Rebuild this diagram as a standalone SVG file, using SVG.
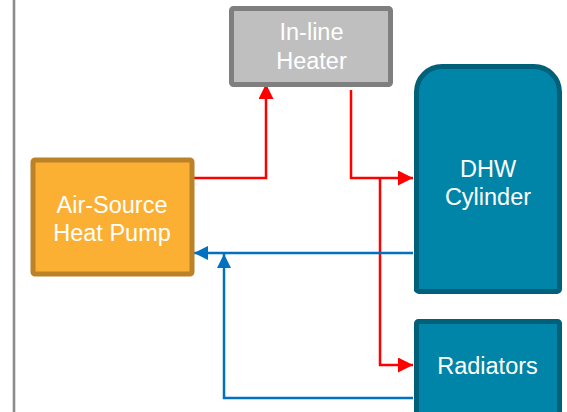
<svg xmlns="http://www.w3.org/2000/svg" width="567" height="412" viewBox="0 0 567 412">
  <defs>
    <style>
      .lbl { font-family: "Liberation Sans", Arial, sans-serif; font-size: 23.5px; fill: #FFFFFF; text-anchor: middle; }
      .hot { fill: none; stroke: #FF0000; stroke-width: 2.5; }
      .cold { fill: none; stroke: #0070C0; stroke-width: 2.5; }
    </style>
    <marker id="arrRed" viewBox="0 0 10 10" refX="10" refY="5" markerUnits="userSpaceOnUse" markerWidth="15" markerHeight="15" orient="auto">
      <path d="M0,0 L10,5 L0,10 Z" fill="#FF0000"/>
    </marker>
    <marker id="arrBlue" viewBox="0 0 10 10" refX="10" refY="5" markerUnits="userSpaceOnUse" markerWidth="14" markerHeight="14" orient="auto">
      <path d="M0,0 L10,5 L0,10 Z" fill="#0070C0"/>
    </marker>
  </defs>
  <rect width="567" height="412" fill="#FFFFFF"/>
  <line x1="14" y1="0" x2="14" y2="412" stroke="#8C8C8C" stroke-width="2.6"/>

  <g id="connectors">
    <path class="hot" d="M194,178 H266 V84" marker-end="url(#arrRed)"/>
    <path class="hot" d="M351,90 V178 H413" marker-end="url(#arrRed)"/>
    <path class="hot" d="M380,178 V365 H413" marker-end="url(#arrRed)"/>
    <path class="cold" d="M413,253 H194" marker-end="url(#arrBlue)"/>
    <path class="cold" d="M413,398 H224 V254" marker-end="url(#arrBlue)"/>
  </g>

  <g id="heater">
    <rect x="231.5" y="8.5" width="159" height="76" rx="2" fill="#BFBFBF" stroke="#7F7F7F" stroke-width="5"/>
    <text class="lbl" x="311.5" y="40">In-line</text>
    <text class="lbl" x="311.5" y="69">Heater</text>
  </g>

  <g id="ashp">
    <rect x="33" y="160" width="159" height="114" rx="2" fill="#FBB034" stroke="#BC8227" stroke-width="5"/>
    <text class="lbl" x="112" y="212.5">Air-Source</text>
    <text class="lbl" x="112" y="240.5">Heat Pump</text>
  </g>

  <g id="dhw">
    <path d="M416.5,291.5 V92 A25.5,25.5 0 0 1 442,66.5 H534 A25.5,25.5 0 0 1 559.5,92 V289 A2.5,2.5 0 0 1 557,291.5 H419 A2.5,2.5 0 0 1 416.5,289 Z" fill="#0085A8" stroke="#005F79" stroke-width="5"/>
    <text class="lbl" x="488" y="177">DHW</text>
    <text class="lbl" x="488" y="205">Cylinder</text>
  </g>

  <g id="radiators">
    <rect x="416.5" y="321.5" width="143" height="100" rx="2" fill="#0085A8" stroke="#005F79" stroke-width="5"/>
    <text class="lbl" x="487.5" y="374">Radiators</text>
  </g>
</svg>
